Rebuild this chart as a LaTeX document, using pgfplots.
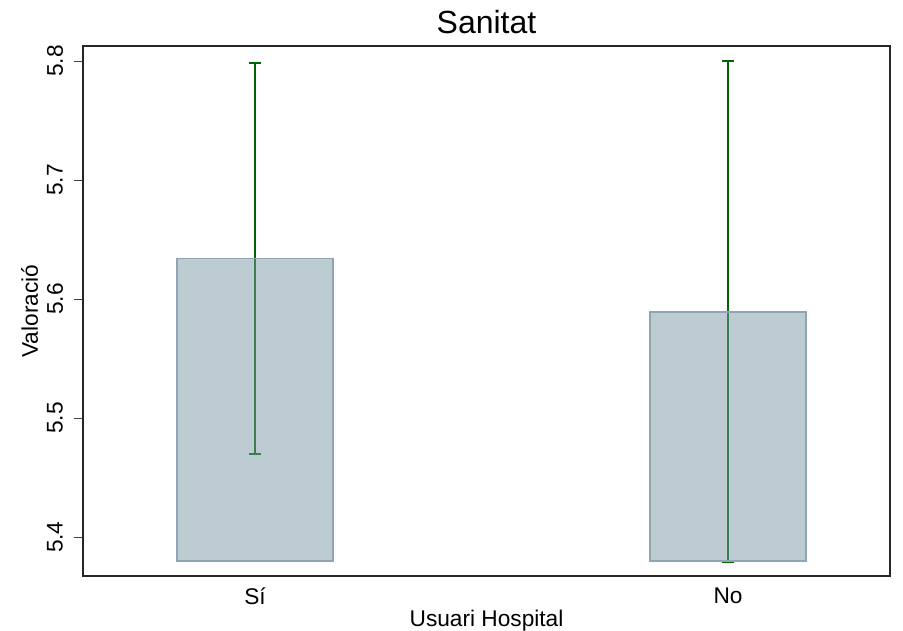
\documentclass[border=0pt]{standalone}
\usepackage{pgfplots}
\pgfplotsset{compat=1.18}
\usepackage{fontspec}
\setmainfont{Liberation Sans}
\definecolor{barfill}{RGB}{124,151,167}
\definecolor{baredge}{RGB}{143,165,179}
\definecolor{errc}{RGB}{0,100,0}
\begin{document}
\begin{tikzpicture}
\begin{axis}[
  scale only axis,
  width=605pt, height=397.5pt,
  xmin=-0.3636, xmax=1.3425,
  ymin=5.3672, ymax=5.8126,
  xtick={0,1}, xticklabels={Sí,No},
  ytick={5.4,5.5,5.6,5.7,5.8},
  ytick pos=left, xtick pos=bottom,
  yticklabel style={rotate=90, anchor=center, yshift=14pt, font=\fontsize{17}{20}\selectfont},
  xticklabel style={anchor=center, yshift=-8pt, font=\fontsize{17}{20}\selectfont},
  /pgf/number format/assume math mode=true,
  /pgf/number format/fixed, /pgf/number format/precision=1,
  /pgf/number format/fixed zerofill,
  tick align=outside,
  major tick length=7pt,
  tick style={black!75, line width=0.7pt},
  xtick style={draw=none},
  axis line style={black!85, line width=1.4pt},
  title={Sanitat},
  title style={at={(axis description cs:0.5,1)}, anchor=center, yshift=12pt, font=\fontsize{24}{28}\selectfont},
  xlabel={Usuari Hospital},
  ylabel={Valoració},
  label style={font=\fontsize{17}{20}\selectfont},
  xlabel style={at={(axis description cs:0.5,0)}, anchor=center, yshift=-33pt},
  ylabel style={at={(axis description cs:0,0.5)}, anchor=center, yshift=40pt},
]
% error bars (drawn first, bars are translucent over them)
\addplot[draw=none, mark=none,
  error bars/.cd, y dir=both, y explicit,
  error bar style={errc, line width=1.4pt},
  error mark options={errc, line width=1.4pt, mark size=4.5pt, rotate=90}]
  coordinates {
  (0,5.634) += (0,0.164) -= (0,0.164)
  (1,5.589) += (0,0.211) -= (0,0.210)
};
% bars
\addplot[fill=barfill, fill opacity=0.5, draw=baredge, line width=1.1pt]
  coordinates {(-0.165,5.380) (0.165,5.380) (0.165,5.634) (-0.165,5.634)} -- cycle;
\addplot[fill=barfill, fill opacity=0.5, draw=baredge, line width=1.1pt]
  coordinates {(0.835,5.380) (1.165,5.380) (1.165,5.589) (0.835,5.589)} -- cycle;
\end{axis}
\pgfresetboundingbox
\path (current axis.south west) ++(-62.25pt,-40.5pt) coordinate (bbA);
\path (current axis.north east) ++(9.75pt,34.5pt) coordinate (bbB);
\useasboundingbox (bbA) rectangle (bbB);
\end{tikzpicture}
\end{document}
